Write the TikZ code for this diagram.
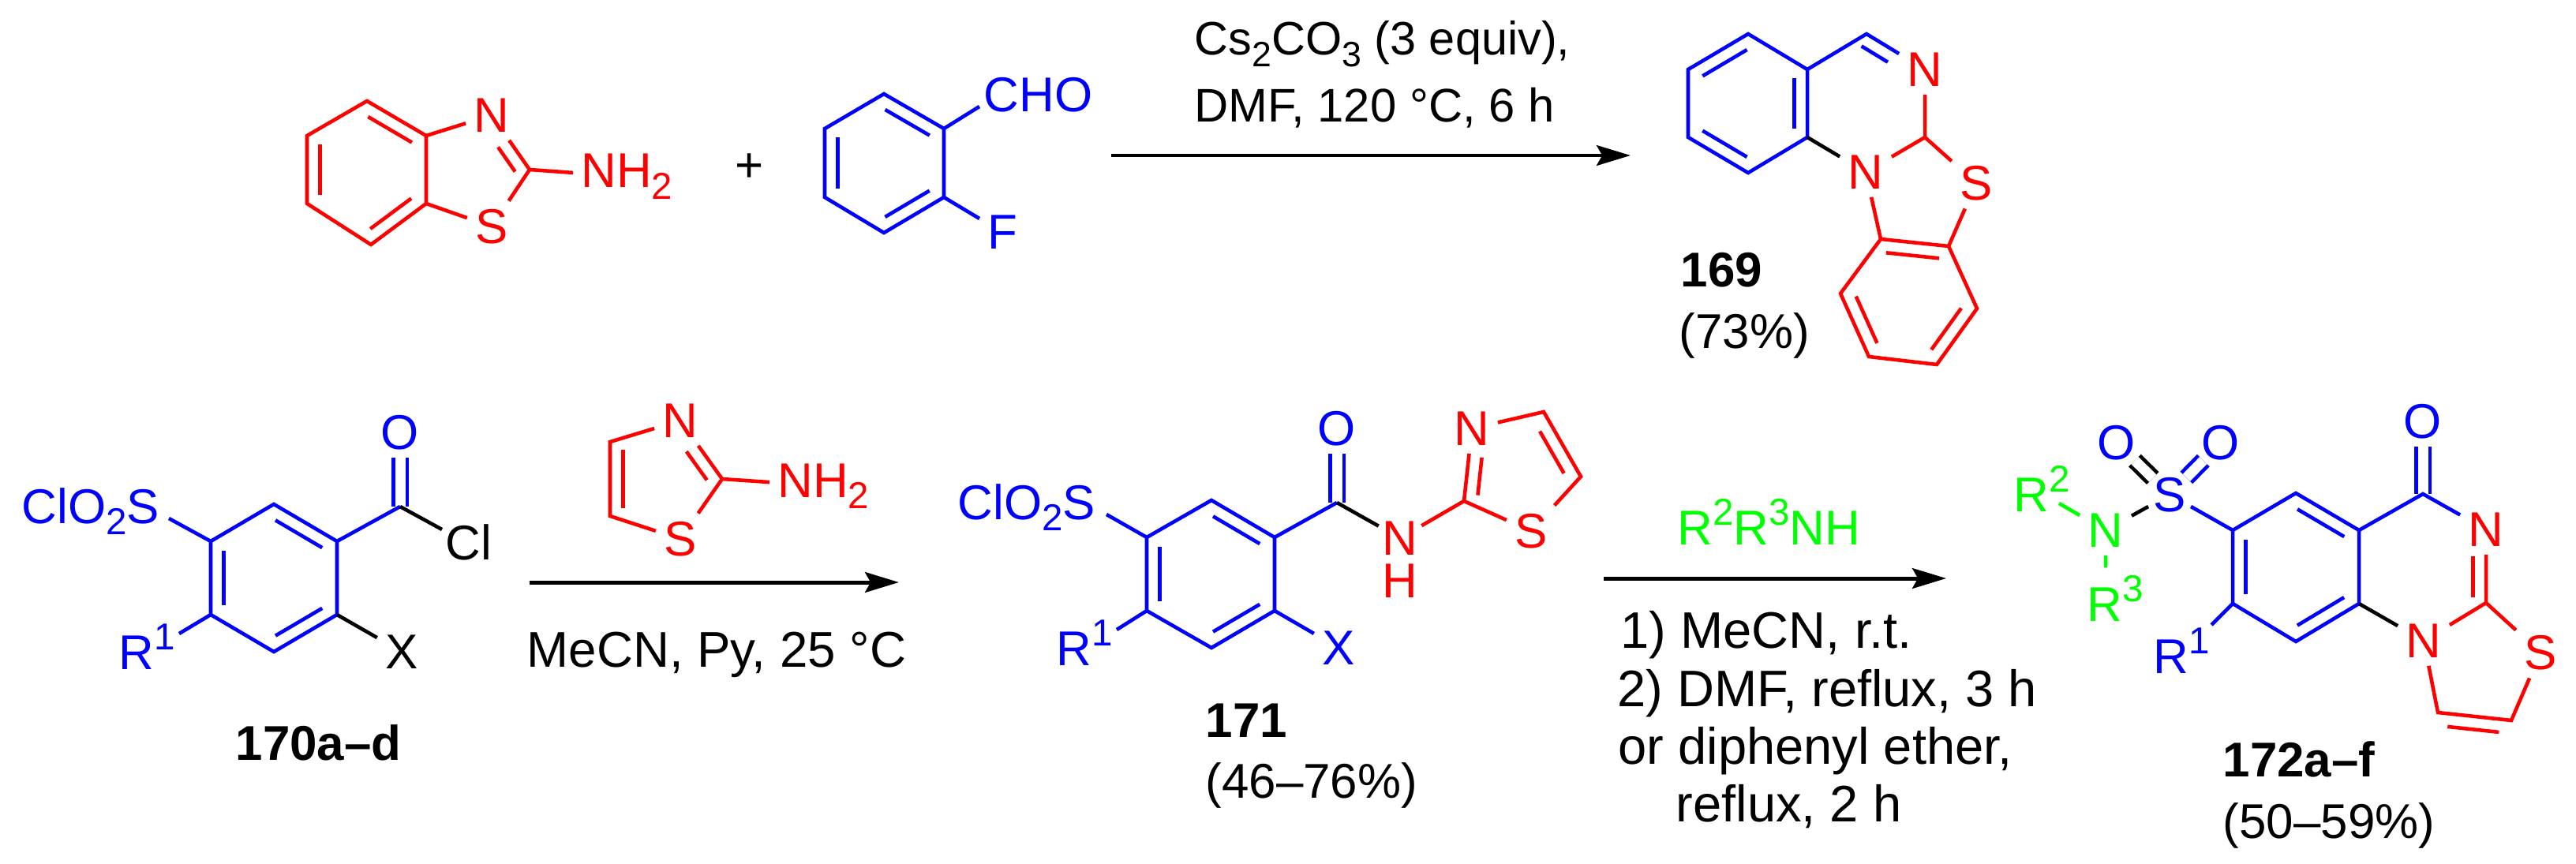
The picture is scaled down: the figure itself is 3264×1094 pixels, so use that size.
\documentclass[tikz,border=0pt]{standalone}
\usepackage{fontspec}
\setmainfont{Liberation Sans}
\usetikzlibrary{calc,arrows.meta}

\newcommand{\chemfont}{\fontsize{17.6}{21}\selectfont}
\newcommand{\sbs}[2][13.5]{\raisebox{-4pt}{\fontsize{#1}{#1}\selectfont #2}}
\newcommand{\sps}[1]{\raisebox{7pt}{\fontsize{13.5}{13.5}\selectfont #1}}
\newcommand{\innb}[5]{\draw[#1] ($(#2)!#4!(#3)!0.165cm!-90:(#3)$) -- ($(#2)!#5!(#3)!0.165cm!-90:(#3)$);}

\tikzset{
	bond/.style={line width=1.3pt},
	bb/.style={bond,blue},
	rb/.style={bond,red},
	gb/.style={bond,green},
	kb/.style={bond,black},
	dbl/.style={line width=1.3pt,double=white,double distance=3.7pt},
	atom/.style={inner sep=2.8pt,font=\chemfont},
	ba/.style={atom,text=blue},
	ra/.style={atom,text=red},
	ga/.style={atom,text=green},
	lab/.style={inner sep=0pt,font=\chemfont,anchor=base west},
	rgt/.style={lab,font=\fontsize{18.5}{22}\selectfont},
	rxn/.style={line width=1.42pt,-{Stealth[length=12.2pt,width=7.3pt,inset=2pt]}}
}

\begin{document}
\begin{tikzpicture}[x=0.01cm,y=-0.01cm]
	\useasboundingbox (0,0) rectangle (3264,1094);

	% aminobenzothiazole
	\coordinate (a1) at (389,172); \coordinate (a2) at (465,128); \coordinate (a3) at (540,172);
	\coordinate (a4) at (540,258); \coordinate (a5) at (470,310); \coordinate (a6) at (389,258);
	\coordinate (a7) at (671,215);
	\node[ra] (an) at (623,146) {N};
	\node[ra] (as) at (623,287) {S};
	\node[ra,anchor=base west] (anh) at (726,238) {NH\sbs{2}};
	\draw[rb] (a1) -- (a2) -- (a3) -- (a4) -- (a5) -- (a6) -- cycle;
	\draw[rb] (a3) -- (an) -- (a7) -- (as) -- (a4);
	\draw[rb] (a7) -- (anh);
	\innb{rb}{a2}{a3}{.13}{.87}
	\innb{rb}{a4}{a5}{.13}{.87}
	\innb{rb}{a6}{a1}{.13}{.87}
	\innb{rb}{an}{a7}{.45}{.90}

	\node[font=\chemfont,inner sep=0pt] (plus) at (950,213) {+};

	% fluorobenzaldehyde
	\coordinate (f1) at (1045,163); \coordinate (f2) at (1120,119); \coordinate (f3) at (1196,163);
	\coordinate (f4) at (1196,250); \coordinate (f5) at (1120,295); \coordinate (f6) at (1045,250);
	\coordinate (fcho) at (1241,135); \coordinate (ff) at (1241,277);
	\node[lab,text=blue] (cho) at (1246,142) {CHO};
	\node[lab,text=blue] (fl) at (1251,315) {F};
	\draw[bb] (f1) -- (f2) -- (f3) -- (f4) -- (f5) -- (f6) -- cycle;
	\draw[bb] (f3) -- (fcho);
	\draw[bb] (f4) -- (ff);
	\innb{bb}{f2}{f3}{.13}{.87}
	\innb{bb}{f4}{f5}{.13}{.87}
	\innb{bb}{f6}{f1}{.13}{.87}

	\coordinate (r1s) at (1408,197); \coordinate (r1e) at (2066,197);
	\draw[rxn] (r1s) -- (r1e);
	\node[lab,font=\fontsize{16.9}{20}\selectfont] (r1a) at (1513,70) {Cs\sbs[12.7]{2}CO\sbs[12.7]{3} (3 equiv),};
	\node[lab,font=\fontsize{17}{20}\selectfont] (r1b) at (1513,155) {DMF, 120 °C, 6 h};

	% 169
	\coordinate (p1) at (2139,88); \coordinate (p2) at (2215,43); \coordinate (p3) at (2290,88);
	\coordinate (p4) at (2290,174); \coordinate (p5) at (2215,219); \coordinate (p6) at (2139,174);
	\coordinate (p7) at (2365,43); \coordinate (p8) at (2439,174);
	\coordinate (p9) at (2383,303); \coordinate (p10) at (2469,312); \coordinate (p11) at (2505,391);
	\coordinate (p12) at (2454,462); \coordinate (p13) at (2368,452); \coordinate (p14) at (2332,372);
	\node[ra] (pn1) at (2439,88) {N};
	\node[ra] (pn2) at (2364,218) {N};
	\node[ra] (ps) at (2504,232) {S};
	\draw[bb] (p1) -- (p2) -- (p3) -- (p4) -- (p5) -- (p6) -- cycle;
	\draw[bb] (p3) -- (p7) -- (pn1);
	\draw[kb] (p4) -- (pn2);
	\draw[rb] (pn1) -- (p8) -- (pn2) -- (p9) -- (p10) -- (p11) -- (p12) -- (p13) -- (p14) -- (p9);
	\draw[rb] (p8) -- (ps) -- (p10);
	\innb{bb}{p1}{p2}{.13}{.87}
	\innb{bb}{p3}{p4}{.13}{.87}
	\innb{bb}{p5}{p6}{.13}{.87}
	\innb{bb}{p7}{pn1}{.03}{.48}
	\innb{rb}{p9}{p10}{.10}{.88}
	\innb{rb}{p11}{p12}{.13}{.87}
	\innb{rb}{p13}{p14}{.13}{.87}
	\node[lab,font=\chemfont\bfseries] (l169) at (2129,363) {169};
	\node[lab] (y169) at (2127,441) {(73\%)};

	% 170a-d
	\coordinate (b1) at (267,686); \coordinate (b2) at (347,639); \coordinate (b3) at (427,686);
	\coordinate (b4) at (427,779); \coordinate (b5) at (347,826); \coordinate (b6) at (267,779);
	\coordinate (b7) at (507,642); \coordinate (bs) at (214,657);
	\coordinate (bcl) at (560,671); \coordinate (br) at (227,803);
	\node[ba] (bo) at (507,548) {O};
	\node[atom] (bx) at (509,826) {X};
	\node[lab,text=blue] (bso) at (27,663) {ClO\sbs{2}S};
	\node[lab] (bcln) at (564,709) {Cl};
	\node[lab,text=blue] (brn) at (150,848) {R\sps{1}};
	\draw[bb,dbl] (b7) -- (bo);
	\draw[bb] (b1) -- (b2) -- (b3) -- (b4) -- (b5) -- (b6) -- cycle;
	\draw[bb] (b3) -- (b7);
	\draw[bb] (b1) -- (bs);
	\draw[bb] (b6) -- (br);
	\draw[kb] (b7) -- (bcl);
	\draw[kb] (b4) -- (bx);
	\innb{bb}{b2}{b3}{.13}{.87}
	\innb{bb}{b4}{b5}{.13}{.87}
	\innb{bb}{b6}{b1}{.13}{.87}
	\node[lab,font=\chemfont\bfseries] (l170) at (298,963) {170a–d};

	% aminothiazole
	\coordinate (t1) at (915,607); \coordinate (t2) at (773,560); \coordinate (t3) at (773,654);
	\node[ra] (tn) at (862,533) {N};
	\node[ra] (ts) at (862,683) {S};
	\node[ra,anchor=base west] (tnh) at (975,630) {NH\sbs{2}};
	\draw[rb] (tn) -- (t2) -- (t3) -- (ts) -- (t1) -- (tn);
	\draw[rb] (t1) -- (tnh);
	\innb{rb}{tn}{t1}{.40}{.89}
	\innb{rb}{t3}{t2}{.11}{.89}

	\coordinate (r2s) at (671,738); \coordinate (r2e) at (1139,738);
	\draw[rxn] (r2s) -- (r2e);
	\node[lab,font=\fontsize{18.1}{22}\selectfont] (r2a) at (667,845) {MeCN, Py, 25 °C};

	% 171
	\coordinate (c1) at (1453,681); \coordinate (c2) at (1535,634); \coordinate (c3) at (1615,681);
	\coordinate (c4) at (1615,774); \coordinate (c5) at (1535,821); \coordinate (c6) at (1453,774);
	\coordinate (c7) at (1694,637); \coordinate (c8) at (1855,635); \coordinate (c9) at (1956,522);
	\coordinate (c10) at (2003,604); \coordinate (cso) at (1402,652); \coordinate (cr) at (1415,798);
	\node[ba] (co) at (1694,543) {O};
	\node[ba] (cx) at (1696,821) {X};
	\node[ra,inner sep=1.2pt] (cnh) at (1774,682) {N};
	\node[ra,inner sep=0pt] (ch) at (1774,736) {H};
	\node[ra] (cn) at (1865,543) {N};
	\node[ra] (cs) at (1940,673) {S};
	\node[lab,text=blue] (csn) at (1213,658) {ClO\sbs{2}S};
	\node[lab,text=blue] (crn) at (1338,843) {R\sps{1}};
	\draw[bb,dbl] (c7) -- (co);
	\draw[bb] (c1) -- (c2) -- (c3) -- (c4) -- (c5) -- (c6) -- cycle;
	\draw[bb] (c3) -- (c7);
	\draw[bb] (c1) -- (cso);
	\draw[bb] (c6) -- (cr);
	\draw[bb] (c4) -- (cx);
	\draw[kb] (c7) -- (cnh);
	\draw[rb] (cnh) -- (c8) -- (cn) -- (c9) -- (c10) -- (cs) -- (c8);
	\innb{bb}{c2}{c3}{.13}{.87}
	\innb{bb}{c4}{c5}{.13}{.87}
	\innb{bb}{c6}{c1}{.13}{.87}
	\innb{rb}{c8}{cn}{.10}{.62}
	\innb{rb}{c9}{c10}{.20}{.85}
	\node[lab,font=\chemfont\bfseries] (l171) at (1527,934) {171};
	\node[lab] (y171) at (1527,1011) {(46–76\%)};

	\coordinate (r3s) at (2032,733); \coordinate (r3e) at (2466,733);
	\draw[rxn] (r3s) -- (r3e);
	\node[lab,text=green] (r3a) at (2125,690) {R\sps{2}R\sps{3}NH};
	\node[rgt] (r3b) at (2053,821) {1) MeCN, r.t.};
	\node[rgt] (r3c) at (2049,895) {2) DMF, reflux, 3 h};
	\node[rgt] (r3d) at (2050,968) {or diphenyl ether,};
	\node[rgt] (r3f) at (2123,1041) {reflux, 2 h};

	% 172a-f
	\coordinate (d1) at (2829,672); \coordinate (d2) at (2909,625); \coordinate (d3) at (2989,672);
	\coordinate (d4) at (2989,765); \coordinate (d5) at (2909,813); \coordinate (d6) at (2829,765);
	\coordinate (d7) at (3070,626); \coordinate (d8) at (3150,764);
	\coordinate (d9) at (3182,913); \coordinate (d10) at (3089,903);
	\coordinate (dr) at (2802,792); \coordinate (dr2) at (2609,638); \coordinate (dr3) at (2668,719);
	\coordinate (dsr) at (2776,642); \coordinate (dsn) at (2722,642);
	\node[ba] (do) at (3070,534) {O};
	\node[ra] (dn1) at (3150,671) {N};
	\node[ra] (dn2) at (3071,812) {N};
	\node[ra] (ds) at (3219,827) {S};
	\node[ba,inner sep=0pt] (dso) at (2749,627) {S};
	\node[ba,inner sep=0pt] (do1) at (2682,561) {O};
	\node[ba,inner sep=0pt] (do2) at (2814,561) {O};
	\node[ga] (dn3) at (2668,672) {N};
	\node[lab,text=blue] (drn) at (2728,853) {R\sps{1}};
	\node[lab,text=green] (drn2) at (2551,648) {R\sps{2}};
	\node[lab,text=green] (drn3) at (2644,787) {R\sps{3}};
	\draw[bb,dbl] (d7) -- (do);
	\draw[kb,dbl] (dso) -- (do1);
	\draw[bb,dbl] (dso) -- (do2);
	\draw[bb] (d1) -- (d2) -- (d3) -- (d4) -- (d5) -- (d6) -- cycle;
	\draw[bb] (d3) -- (d7) -- (dn1);
	\draw[bb] (d1) -- (dsr);
	\draw[bb] (d6) -- (dr);
	\draw[kb] (d4) -- (dn2);
	\draw[kb] (dn3) -- (dsn);
	\draw[gb] (dr2) -- (dn3) -- (dr3);
	\draw[rb] (dn1) -- (d8) -- (dn2) -- (d10) -- (d9) -- (ds) -- (d8);
	\innb{bb}{d2}{d3}{.13}{.87}
	\innb{bb}{d4}{d5}{.13}{.87}
	\innb{bb}{d6}{d1}{.13}{.87}
	\innb{rb}{dn1}{d8}{.37}{.92}
	\innb{rb}{d10}{d9}{.15}{.85}
	\node[lab,font=\chemfont\bfseries] (l172) at (2816,984) {172a–f};
	\node[lab] (y172) at (2816,1062) {(50–59\%)};
\end{tikzpicture}
\end{document}
